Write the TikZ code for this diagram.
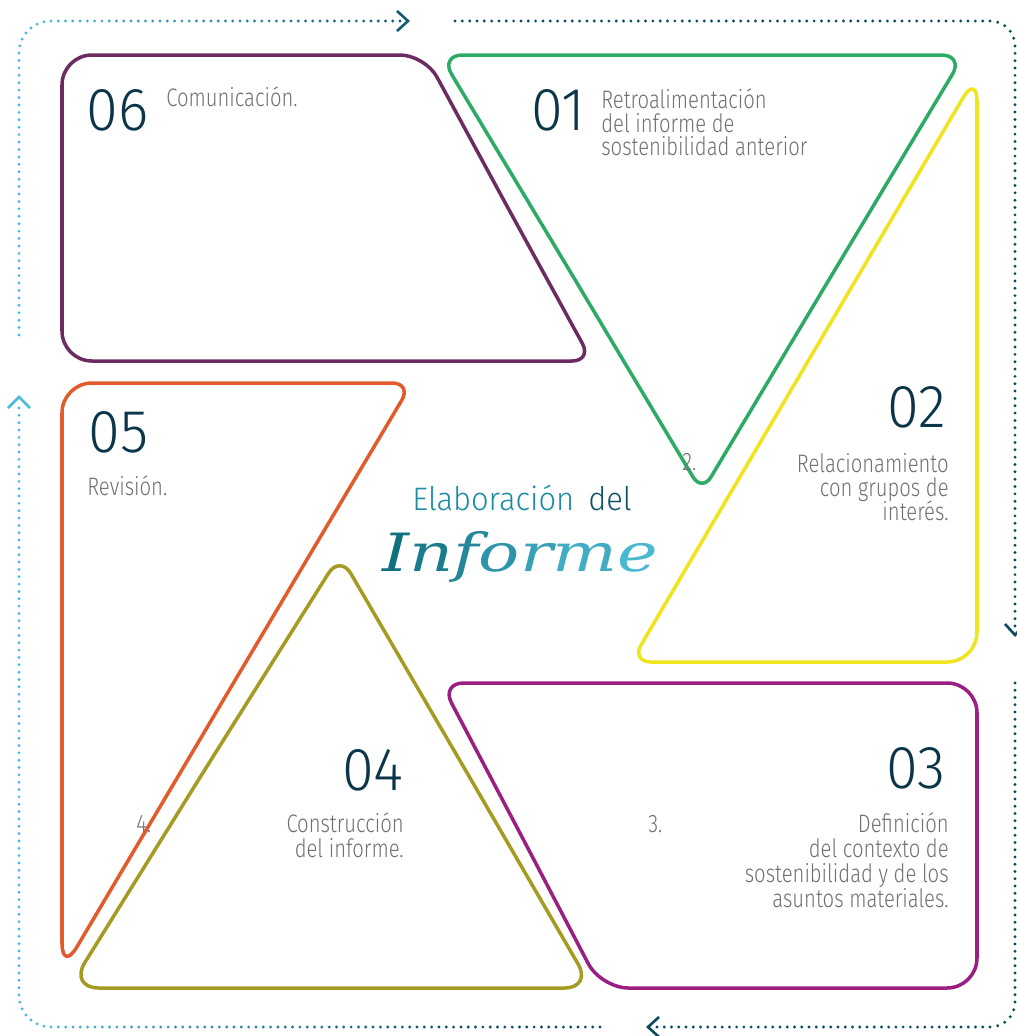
\documentclass[tikz,border=0pt]{standalone}
\usepackage{fontspec}
\usetikzlibrary{calc}
\newfontfamily\numfont{Fira Sans Light}[FakeStretch=0.95]
\newfontfamily\txtfont{Fira Sans Light}[FakeStretch=0.8]
\newfontfamily\headfont{Fira Sans Light}[FakeStretch=0.95]
\newfontfamily\scriptfnt{DejaVu Serif}[FakeStretch=1.3]

\definecolor{c06}{HTML}{6C2C62}
\definecolor{c01}{HTML}{2DAA64}
\definecolor{c02}{HTML}{EFE41E}
\definecolor{c03}{HTML}{9B1E82}
\definecolor{c04}{HTML}{A49B23}
\definecolor{c05}{HTML}{E35B2C}
\definecolor{numcol}{HTML}{0B3548}
\definecolor{txtcol}{HTML}{6F7073}
\definecolor{frameDark}{HTML}{0D4A5D}
\definecolor{frameLight}{HTML}{4EBAD6}
\definecolor{infA}{HTML}{11707F}
\definecolor{infB}{HTML}{4BB8D2}
\definecolor{elab}{HTML}{1A8CA4}
\definecolor{deltxt}{HTML}{0F5266}

% one dot of the dotted frame, shaded from light (left) to dark (right)
\newcommand\framedot[2]{%
  \pgfmathsetmacro\fx{#1}\pgfmathsetmacro\fy{#2}%
  \pgfmathtruncatemacro\fs{max(0,min(100,(\fx-40)/4.2))}%
  \fill[frameDark!\fs!frameLight] (\fx,\fy) circle[radius=0.032cm];}

\tikzset{
  outline/.style={line width=2pt, line join=round},
  num/.style={inner sep=0pt, text=numcol, font=\numfont\fontsize{34.5}{34.5}\selectfont},
  txt/.style={inner sep=0pt, text=txtcol, font=\txtfont\fontsize{14.4}{14.4}\selectfont},
  chevron/.style={line width=1.5pt, line cap=butt, line join=miter},
}

\begin{document}
\begin{tikzpicture}[x=0.02cm, y=-0.02cm]
\useasboundingbox (0,0) rectangle (1017,1036);

% ---- dotted cycle frame ----
\foreach \i in {0,...,48} {\framedot{51+\i*(349/48)}{21}}
\foreach \i in {1,...,6} {\framedot{51-32*cos(\i*90/7)}{53-32*sin(\i*90/7)}}
\foreach \i in {0,...,38} {\framedot{19}{53+\i*(282/38)}}
\foreach \i in {0,...,73} {\framedot{455+\i*(535/73)}{21}}
\foreach \i in {1,...,4} {\framedot{990+25*sin(\i*18)}{46-25*cos(\i*18)}}
\foreach \i in {0,...,79} {\framedot{1015}{46+\i*(580/79)}}
\foreach \i in {0,...,44} {\framedot{1015}{683+\i*(319/44)}}
\foreach \i in {1,...,4} {\framedot{990+25*cos(\i*18)}{1002+25*sin(\i*18)}}
\foreach \i in {0,...,46} {\framedot{990-\i*(333/46)}{1027}}
\foreach \i in {0,...,75} {\framedot{600-\i*(549/75)}{1027}}
\foreach \i in {1,...,6} {\framedot{51-32*cos(\i*90/7)}{995+32*sin(\i*90/7)}}
\foreach \i in {0,...,80} {\framedot{19}{995-\i*(587/80)}}

% arrow heads of the frame
\coordinate (tipT) at (408,21);
\coordinate (tipR) at (1015,635);
\coordinate (tipB) at (648,1027);
\coordinate (tipL) at (19,397);
\draw[chevron, frameDark!85!frameLight] ($(tipT)+(-11,-10)$) -- (tipT) -- ($(tipT)+(-11,10)$);
\draw[chevron, frameDark] ($(tipR)+(-10,-11)$) -- (tipR) -- ($(tipR)+(10,-11)$);
\draw[chevron, frameDark] ($(tipB)+(11,-10)$) -- (tipB) -- ($(tipB)+(11,10)$);
\draw[chevron, frameLight] ($(tipL)+(-11,11)$) -- (tipL) -- ($(tipL)+(11,11)$);

% ---- 06 : purple trapezoid ----
\draw[outline, c06] (62,200)
  [rounded corners=0.6cm] -- (62,55) -- (250,55)
  [rounded corners=0.5cm] -- (425,55) -- (508,208)
  [rounded corners=0.4cm] -- (592,361) -- (330,361)
  [rounded corners=0.6cm] -- (62,361) -- cycle;

% ---- 01 : green inverted triangle ----
\draw[outline, c01] (700,55)
  [rounded corners=0.45cm] -- (964,55) -- (833,273)
  [rounded corners=0.35cm] -- (702,492) -- (571,273)
  [rounded corners=0.45cm] -- (440,55) -- cycle;

% ---- 02 : yellow triangle ----
\draw[outline, c02] (977,370)
  [rounded corners=0.55cm] -- (977,74) -- (804,368)
  [rounded corners=0.4cm] -- (631,662) -- (804,662)
  [rounded corners=0.6cm] -- (977,662) -- cycle;

% ---- 03 : magenta trapezoid ----
\draw[outline, c03] (700,683)
  [rounded corners=0.6cm] -- (977,683) -- (977,835)
  [rounded corners=0.6cm] -- (977,988) -- (790,988)
  [rounded corners=0.55cm] -- (601,988) -- (521,835)
  [rounded corners=0.45cm] -- (441,683) -- cycle;

% ---- 05 : orange triangle ----
\draw[outline, c05] (62,650)
  [rounded corners=0.6cm] -- (62,383) -- (237,383)
  [rounded corners=0.4cm] -- (412,383) -- (237,677)
  [rounded corners=0.58cm] -- (62,972) -- cycle;

% ---- 04 : olive triangle ----
\draw[outline, c04] (330,988)
  [rounded corners=0.6cm] -- (69,988) -- (204,771)
  [rounded corners=0.43cm] -- (340,555) -- (466,771)
  [rounded corners=0.55cm] -- (592,988) -- cycle;

% ---- step numbers and captions ----
\node[num, anchor=base west] (n06) at (86,130) {06};
\node[txt, anchor=base west] (t06) at (166,106) {Comunicación.};

\node[num, anchor=base west] (n01) at (531,130) {01};
\node[txt, anchor=base west] (t01a) at (601,108.5) {Retroalimentación};
\node[txt, anchor=base west] (t01b) at (601,132) {del informe de};
\node[txt, anchor=base west] (t01c) at (601,155.5) {sostenibilidad anterior};

\node[num, anchor=base east] (n02) at (946,427) {02};
\node[txt, anchor=base east] (t02a) at (949,472) {Relacionamiento};
\node[txt, anchor=base east] (t02b) at (949,496) {con grupos de};
\node[txt, anchor=base east] (t02c) at (949,520) {interés.};
\node[txt, anchor=base west] (s02) at (682,470) {2.};

\node[num, anchor=base east] (n03) at (946,788) {03};
\node[txt, anchor=base east] (t03a) at (949,832) {Definición};
\node[txt, anchor=base east] (t03b) at (949,857) {del contexto de};
\node[txt, anchor=base east] (t03c) at (949,882) {sostenibilidad y de los};
\node[txt, anchor=base east] (t03d) at (949,907) {asuntos materiales.};
\node[txt, anchor=base west] (s03) at (648,832) {3.};

\node[num, anchor=base east] (n04) at (404,790) {04};
\node[txt, anchor=base east] (t04a) at (404,832) {Construcción};
\node[txt, anchor=base east] (t04b) at (404,857) {del informe.};
\node[txt, anchor=base west] (s04) at (136,832) {4.};

\node[num, anchor=base west] (n05) at (88,452) {05};
\node[txt, anchor=base west] (t05) at (87,495) {Revisión.};

% ---- centre title ----
\node[inner sep=0pt, anchor=base west, text=elab, font=\headfont\fontsize{18.5}{18.5}\selectfont] (ttl1) at (412,510) {Elaboración};
\node[inner sep=0pt, anchor=base west, text=deltxt, font=\headfont\fontsize{18.5}{18.5}\selectfont] (ttl2) at (588,510) {del};
\node[inner sep=0pt, anchor=base west, font=\scriptfnt\itshape\fontsize{30}{30}\selectfont] (ttl3) at (382,571)
  {\textcolor{infA}{I}\textcolor{infB!17!infA}{n}\textcolor{infB!33!infA}{f}\textcolor{infB!50!infA}{o}\textcolor{infB!67!infA}{r}\textcolor{infB!83!infA}{m}\textcolor{infB}{e}};
\end{tikzpicture}
\end{document}
